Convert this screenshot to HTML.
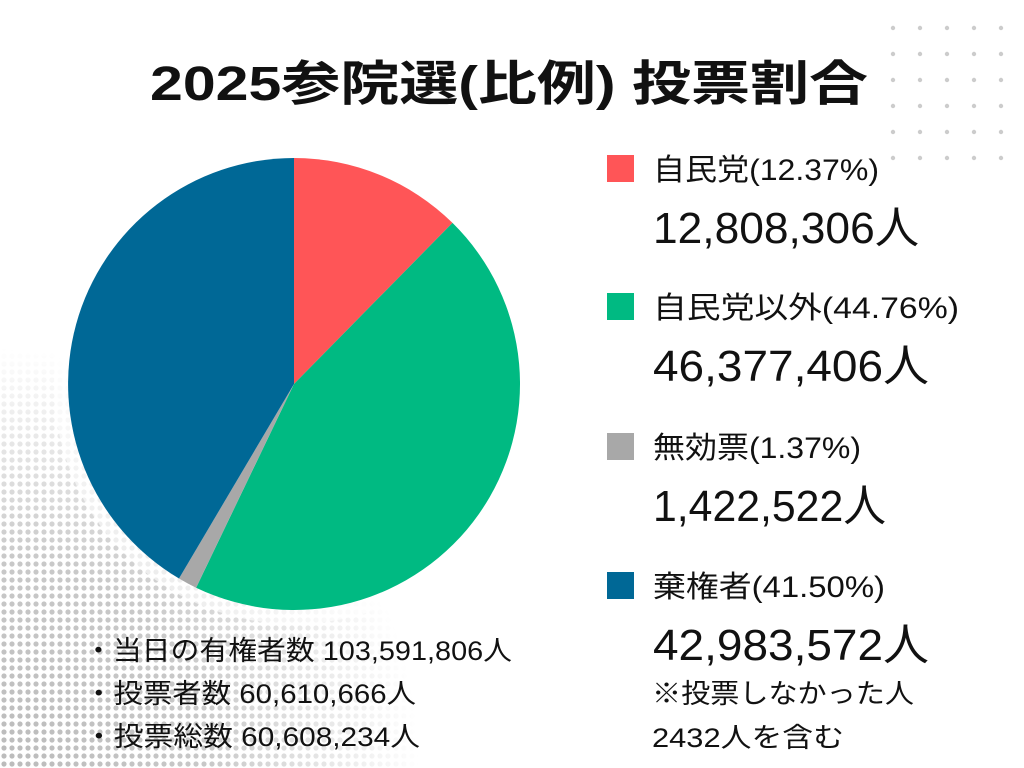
<!DOCTYPE html>
<html><head><meta charset="utf-8"><style>
html,body{margin:0;padding:0;background:#fff}
svg{display:block}
text{font-family:"Liberation Sans","Noto Sans CJK JP",sans-serif;fill:#111}
</style></head><body>
<svg width="1024" height="768" viewBox="0 0 1024 768" xmlns="http://www.w3.org/2000/svg">
<defs>
<pattern id="dots" width="8" height="8" patternUnits="userSpaceOnUse">
<circle cx="4" cy="4" r="2.6" fill="#bbb"/>
</pattern>
<radialGradient id="fade" cx="0" cy="768" r="420" gradientUnits="userSpaceOnUse">
<stop offset="0" stop-color="#fff" stop-opacity="1"/>
<stop offset="0.5" stop-color="#fff" stop-opacity="0.8"/>
<stop offset="1" stop-color="#fff" stop-opacity="0"/>
</radialGradient>
<mask id="m"><rect width="1024" height="768" fill="url(#fade)"/></mask>
</defs>
<rect width="1024" height="768" fill="#fff"/>
<rect width="1024" height="768" fill="url(#dots)" mask="url(#m)"/>
<g fill="#ccc">
<circle cx="893" cy="28" r="2.2"/><circle cx="920" cy="28" r="2.2"/><circle cx="947" cy="28" r="2.2"/><circle cx="974" cy="28" r="2.2"/><circle cx="1001" cy="28" r="2.2"/>
<circle cx="893" cy="54" r="2.2"/><circle cx="920" cy="54" r="2.2"/><circle cx="947" cy="54" r="2.2"/><circle cx="974" cy="54" r="2.2"/><circle cx="1001" cy="54" r="2.2"/>
<circle cx="893" cy="80" r="2.2"/><circle cx="920" cy="80" r="2.2"/><circle cx="947" cy="80" r="2.2"/><circle cx="974" cy="80" r="2.2"/><circle cx="1001" cy="80" r="2.2"/>
<circle cx="893" cy="106" r="2.2"/><circle cx="920" cy="106" r="2.2"/><circle cx="947" cy="106" r="2.2"/><circle cx="974" cy="106" r="2.2"/><circle cx="1001" cy="106" r="2.2"/>
<circle cx="893" cy="132" r="2.2"/><circle cx="920" cy="132" r="2.2"/><circle cx="947" cy="132" r="2.2"/><circle cx="974" cy="132" r="2.2"/><circle cx="1001" cy="132" r="2.2"/>
<circle cx="893" cy="158" r="2.2"/><circle cx="920" cy="158" r="2.2"/><circle cx="947" cy="158" r="2.2"/><circle cx="974" cy="158" r="2.2"/><circle cx="1001" cy="158" r="2.2"/>
</g>
<!-- pie: white backdrop to hide dots -->
<circle cx="294" cy="384" r="240" fill="#fff" opacity="0.6"/>
<path d="M294,384 L294,158 A226,226 0 0,1 452.5,222.9 Z" fill="#FF5557"/>
<path d="M294,384 L452.5,222.9 A226,226 0 0,1 196.1,587.7 Z" fill="#00BA82"/>
<path d="M294,384 L196.1,587.7 A226,226 0 0,1 179.0,578.5 Z" fill="#A8A8A8"/>
<path d="M294,384 L179.0,578.5 A226,226 0 0,1 294,158 Z" fill="#006896"/>

<text x="150" y="100" font-size="48" font-weight="bold" textLength="718" lengthAdjust="spacingAndGlyphs">2025参院選(比例) 投票割合</text>

<rect x="607" y="155" width="27" height="27" fill="#FF5557"/>
<text x="653" y="180" font-size="30" textLength="226" lengthAdjust="spacingAndGlyphs">自民党(12.37%)</text>
<text x="653" y="243" font-size="44" textLength="266" lengthAdjust="spacingAndGlyphs">12,808,306人</text>

<rect x="607" y="293" width="27" height="27" fill="#00BA82"/>
<text x="653" y="318" font-size="30" textLength="306" lengthAdjust="spacingAndGlyphs">自民党以外(44.76%)</text>
<text x="653" y="381" font-size="44" textLength="276" lengthAdjust="spacingAndGlyphs">46,377,406人</text>

<rect x="607" y="433" width="27" height="27" fill="#A8A8A8"/>
<text x="653" y="458" font-size="30" textLength="208" lengthAdjust="spacingAndGlyphs">無効票(1.37%)</text>
<text x="653" y="521" font-size="44" textLength="233" lengthAdjust="spacingAndGlyphs">1,422,522人</text>

<rect x="607" y="572" width="27" height="27" fill="#006896"/>
<text x="653" y="597" font-size="30" textLength="232" lengthAdjust="spacingAndGlyphs">棄権者(41.50%)</text>
<text x="653" y="660" font-size="44" textLength="276" lengthAdjust="spacingAndGlyphs">42,983,572人</text>
<text x="652" y="703" font-size="27" textLength="262" lengthAdjust="spacingAndGlyphs">※投票しなかった人</text>
<text x="652" y="747" font-size="27" textLength="192" lengthAdjust="spacingAndGlyphs">2432人を含む</text>

<text x="84" y="660" font-size="27" textLength="428" lengthAdjust="spacingAndGlyphs">・当日の有権者数 103,591,806人</text>
<text x="84" y="703" font-size="27" textLength="332" lengthAdjust="spacingAndGlyphs">・投票者数 60,610,666人</text>
<text x="84" y="746" font-size="27" textLength="336" lengthAdjust="spacingAndGlyphs">・投票総数 60,608,234人</text>
</svg>
</body></html>
